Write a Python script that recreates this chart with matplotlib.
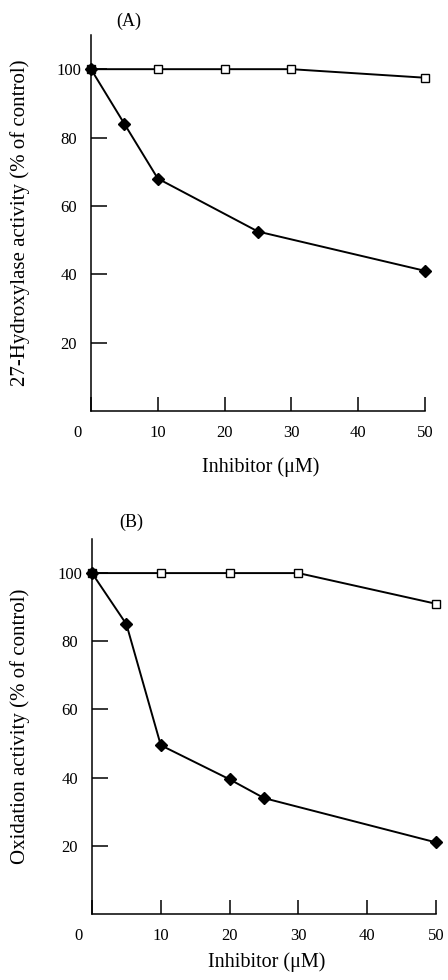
import matplotlib.pyplot as plt
import matplotlib.transforms as mtransforms

plt.rcParams['font.family'] = ['Liberation Serif', 'DejaVu Serif']

# panel A: 27-hydroxylase
a_sq_x = [0, 10, 20, 30, 50]
a_sq_y = [100, 100, 100, 100, 97.5]
a_dia_x = [0, 5, 10, 25, 50]
a_dia_y = [100, 84, 68, 52.5, 41]

# panel B: oxidation
b_sq_x = [0, 10, 20, 30, 50]
b_sq_y = [100, 100, 100, 100, 91]
b_dia_x = [0, 5, 10, 20, 25, 50]
b_dia_y = [100, 85, 49.5, 39.5, 34, 21]

xticks = [0, 10, 20, 30, 40, 50]
yticks = [20, 40, 60, 80, 100]

# tag, ylabel, data, axes rect, ylabel x, xlabel y, tag y
panels = [
    ('(A)', '27-Hydroxylase activity (% of control)', a_sq_x, a_sq_y, a_dia_x, a_dia_y,
     [91/448, (980-411)/980, 334/448, 376/980], -0.213, -0.149, 1.037),
    ('(B)', 'Oxidation activity (% of control)', b_sq_x, b_sq_y, b_dia_x, b_dia_y,
     [92/448, (980-914)/980, 344/448, 375/980], -0.209, -0.128, 1.045),
]

fig = plt.figure(figsize=(4.48, 9.8), dpi=100)

for tag, ylab, sx, sy, dx, dy, rect, ylx, xly, tagy in panels:
    ax = fig.add_axes(rect)
    ax.plot(sx, sy, '-', color='black', lw=1.4, marker='s', ms=5.5,
            mfc='white', mec='black', mew=1, clip_on=False, zorder=3)
    ax.plot(dx, dy, '-', color='black', lw=1.4, marker='D', ms=6,
            mfc='black', mec='black', clip_on=False, zorder=4)
    ax.set_xlim(0, 50)
    ax.set_ylim(0, 110)
    ax.spines['top'].set_visible(False)
    ax.spines['right'].set_visible(False)
    ax.spines['left'].set_linewidth(1.1)
    ax.spines['bottom'].set_linewidth(1.1)
    ax.set_xticks(xticks)
    ax.set_yticks(yticks)
    ax.tick_params(direction='in', width=1.1, labelsize=12)
    ax.tick_params(axis='x', length=10, pad=10)
    ax.tick_params(axis='y', length=11.5, pad=16)
    for t in ax.get_yticklabels():
        t.set_ha('center')
    # the zero label sits left of the y axis
    lbl0 = ax.get_xticklabels()[0]
    lbl0.set_transform(lbl0.get_transform() +
                       mtransforms.ScaledTranslation(-14/100, 0, fig.dpi_scale_trans))
    ax.set_ylabel(ylab, fontsize=15, va='center')
    ax.yaxis.set_label_coords(ylx, 0.5)
    ax.set_xlabel('Inhibitor (μM)', fontsize=14.5, va='center')
    ax.xaxis.set_label_coords(0.509, xly)
    ax.text(0.114, tagy, tag, transform=ax.transAxes, fontsize=13,
            ha='center', va='center')

plt.savefig('out.png', dpi=100)
